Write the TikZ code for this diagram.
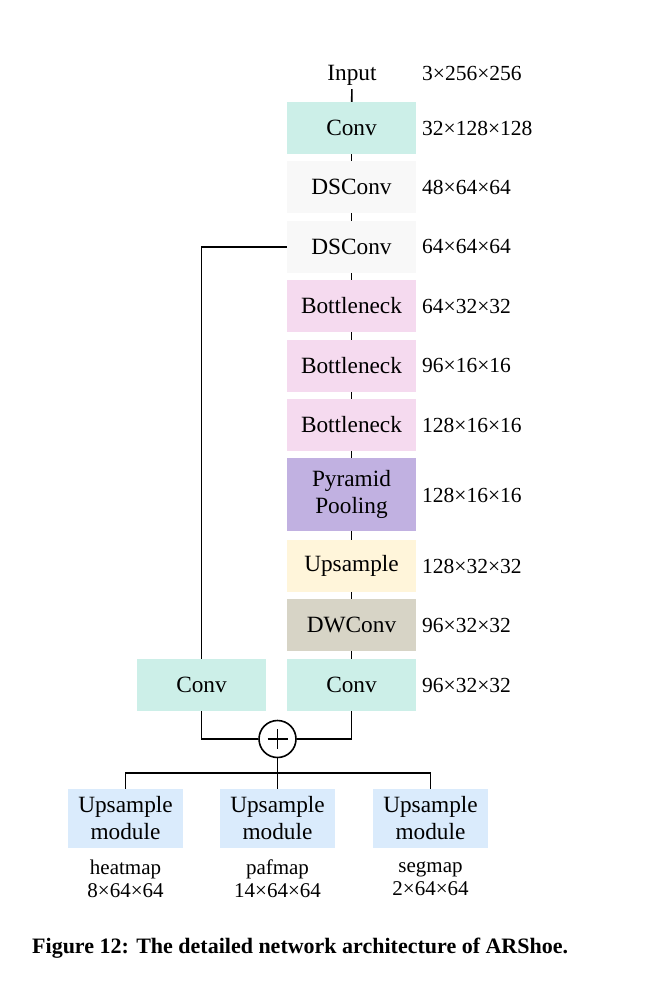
\documentclass[tikz,border=0pt]{standalone}
\usepackage{fontspec}
\setmainfont{Liberation Serif}
\begin{document}
\begin{tikzpicture}[x=1pt,y=-1pt,
  every node/.style={inner sep=0pt,font=\fontsize{23.3}{27}\selectfont},
  blk/.style={minimum width=129pt,minimum height=52pt,align=center},
  cconv/.style={blk,fill=convc},
  cds/.style={blk,fill=dsc},
  cbn/.style={blk,fill=bnc},
  cpp/.style={blk,fill=ppc,minimum height=73pt},
  cup/.style={blk,fill=upc},
  cdw/.style={blk,fill=dwc},
  umod/.style={minimum width=115pt,minimum height=59pt,align=center,fill=umc,font=\fontsize{23.3}{27}\selectfont},
  dim/.style={anchor=west,font=\fontsize{21.5}{24}\selectfont},
  outl/.style={align=center,font=\fontsize{21}{23}\selectfont},
  conn/.style={line width=1.6pt}
]
\definecolor{convc}{HTML}{CCEFE8}
\definecolor{dsc}{HTML}{F8F8F8}
\definecolor{bnc}{HTML}{F5DAEF}
\definecolor{ppc}{HTML}{C1B1E1}
\definecolor{upc}{HTML}{FFF5DA}
\definecolor{dwc}{HTML}{D7D4C6}
\definecolor{umc}{HTML}{DAEBFC}
\useasboundingbox[fill=white] (0,0) rectangle (653,991);

\node[anchor=base] (input) at (352,80) {Input};
\node[cconv] (conv1) at (351.5,128) {Conv};
\node[cds] (ds1) at (351.5,187) {DSConv};
\node[cds] (ds2) at (351.5,247) {DSConv};
\node[cbn] (b1) at (351.5,306) {Bottleneck};
\node[cbn] (b2) at (351.5,366) {Bottleneck};
\node[cbn] (b3) at (351.5,425) {Bottleneck};
\node[cpp] (pp) at (351.5,494.5) {Pyramid\\Pooling};
\node[cup] (ups) at (351.5,566) {Upsample};
\node[cdw] (dw) at (351.5,625) {DWConv};
\node[cconv] (conv3) at (351.5,685) {Conv};
\node[cconv] (convL) at (201.5,685) {Conv};

\node[dim] (d0) at (422,73) {3×256×256};
\node[dim] (d1) at (422,128) {32×128×128};
\node[dim] (d2) at (422,187) {48×64×64};
\node[dim] (d3) at (422,246) {64×64×64};
\node[dim] (d4) at (422,306) {64×32×32};
\node[dim] (d5) at (422,365) {96×16×16};
\node[dim] (d6) at (422,425) {128×16×16};
\node[dim] (d7) at (422,495) {128×16×16};
\node[dim] (d8) at (422,566) {128×32×32};
\node[dim] (d9) at (422,625) {96×32×32};
\node[dim] (d10) at (422,685) {96×32×32};

\node[circle,draw,line width=1.6pt,minimum size=37pt,
  path picture={\draw[line width=1.6pt] (path picture bounding box.center) +(-10,0) -- +(10,0)
     (path picture bounding box.center) +(0,-10) -- +(0,10);}] (plus) at (277.5,739) {};

\node[umod] (u1) at (125.5,818.5) {Upsample\\module};
\node[umod] (u2) at (277.5,818.5) {Upsample\\module};
\node[umod] (u3) at (430.5,818.5) {Upsample\\module};
\node[outl] (o1) at (125.5,879) {heatmap\\8×64×64};
\node[outl] (o2) at (277.5,879) {pafmap\\14×64×64};
\node[outl] (o3) at (430.5,879) {segmap\\2×64×64};

\coordinate (split) at (277.5,773);

\draw[conn,shorten <=4pt] (input) -- (conv1);
\draw[conn] (conv1) -- (ds1);
\draw[conn] (ds1) -- (ds2);
\draw[conn] (ds2) -- (b1);
\draw[conn] (b1) -- (b2);
\draw[conn] (b2) -- (b3);
\draw[conn] (b3) -- (pp);
\draw[conn] (pp) -- (ups);
\draw[conn] (ups) -- (dw);
\draw[conn] (dw) -- (conv3);
\draw[conn] (ds2.west) -| (convL.north);
\draw[conn] (convL.south) |- (plus.west);
\draw[conn] (conv3.south) |- (plus.east);
\draw[conn] (plus.south) -- (split);
\draw[conn] (u1.north) |- (split) -| (u3.north);
\draw[conn] (split) -- (u2.north);

\node[anchor=west,font=\fontsize{22}{25}\selectfont\bfseries] (cap) at (32,948) {Figure 12: The detailed network architecture of ARShoe.};
\end{tikzpicture}
\end{document}
